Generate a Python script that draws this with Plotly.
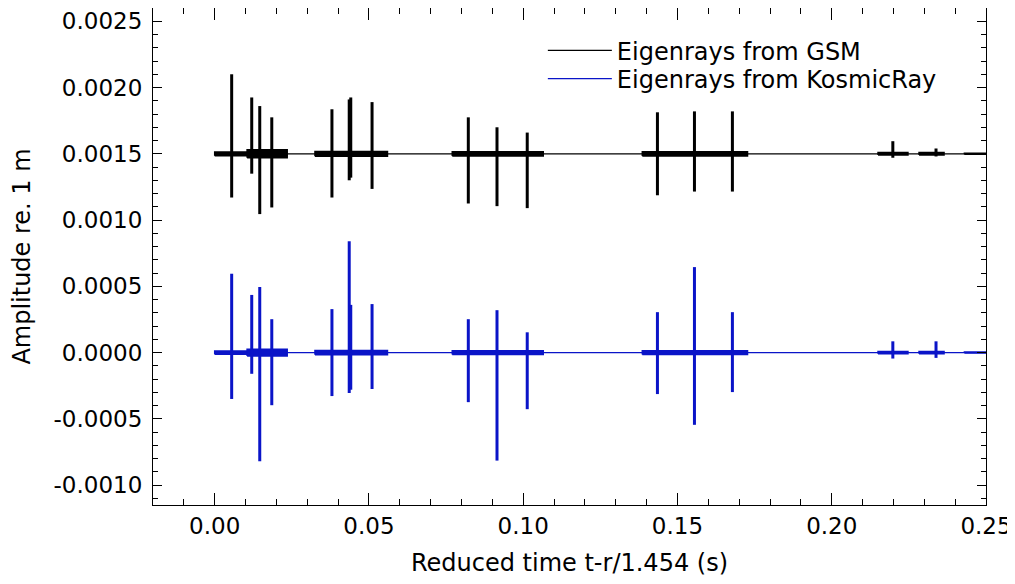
import plotly.graph_objects as go

# ---- data ----
spike_t = [0.0055, 0.0120, 0.0146, 0.0185, 0.0380, 0.0436, 0.0441, 0.0510,
           0.0822, 0.0915, 0.1013, 0.1435, 0.1555, 0.1678, 0.2198, 0.2338]
gsm_up = [0.000600, 0.000425, 0.000360, 0.000275, 0.000336, 0.000410, 0.000425, 0.000390,
          0.000275, 0.000200, 0.000160, 0.000313, 0.000320, 0.000320, 0.000095, 0.000040]
gsm_down = [-0.000330, -0.000150, -0.000455, -0.000405, -0.000330, -0.000200, -0.000180, -0.000265,
            -0.000375, -0.000395, -0.000410, -0.000313, -0.000285, -0.000285, -0.000030, -0.000020]
ks_up = [0.000595, 0.000435, 0.000495, 0.000252, 0.000328, 0.000840, 0.000360, 0.000366,
         0.000252, 0.000320, 0.000153, 0.000305, 0.000645, 0.000305, 0.000085, 0.000085]
ks_down = [-0.000350, -0.000160, -0.000820, -0.000397, -0.000328, -0.000305, -0.000280, -0.000275,
           -0.000374, -0.000815, -0.000427, -0.000313, -0.000545, -0.000298, -0.000045, -0.000040]

burst_start = [0.0000, 0.0105, 0.0325, 0.0770, 0.1386, 0.2150, 0.2283, 0.2430]
burst_end = [0.0105, 0.0235, 0.0560, 0.1065, 0.1727, 0.2247, 0.2364, 0.2500]
gsm_burst = [0.000014, 0.000030, 0.000018, 0.000016, 0.000016, 0.000010, 0.000010, 0.000004]
ks_burst = [0.000012, 0.000026, 0.000016, 0.000014, 0.000014, 0.000008, 0.000008, 0.000004]

gsm_offset = 0.0015
ks_offset = 0.0
t_range = [0.0, 0.25]

ytick_vals = [-0.0010, -0.0005, 0.0, 0.0005, 0.0010, 0.0015, 0.0020, 0.0025]
ytick_text = ["-0.0010", "-0.0005", "0.0000", "0.0005", "0.0010", "0.0015", "0.0020", "0.0025"]
xtick_vals = [0.0, 0.05, 0.10, 0.15, 0.20, 0.25]
xtick_text = ["0.00", "0.05", "0.10", "0.15", "0.20", "0.25"]

BLACK = "#000000"
BLUE = "#0a14c8"


def spikes(base, up, down):
    xs, ys = [], []
    for t, u, d in zip(spike_t, up, down):
        xs += [t, t, None]
        ys += [base + d, base + u, None]
    return xs, ys


def bursts(base, amp):
    xs, ys = [], []
    for s, e, a in zip(burst_start, burst_end, amp):
        xs += [s, e, e, s, s, None]
        ys += [base - a, base - a, base + a, base + a, base - a, None]
    return xs, ys


fig = go.Figure()
for name, base, up, down, amp, col, leg in [
    ("Eigenrays from GSM", gsm_offset, gsm_up, gsm_down, gsm_burst, BLACK, "legend"),
    ("Eigenrays from KosmicRay", ks_offset, ks_up, ks_down, ks_burst, BLUE, "legend2"),
]:
    fig.add_trace(go.Scatter(x=t_range, y=[base, base], mode="lines",
                             line=dict(color=col, width=1.2), name=name,
                             showlegend=True, legend=leg))
    bx, by = bursts(base, amp)
    fig.add_trace(go.Scatter(x=bx, y=by, mode="lines", fill="toself",
                             fillcolor=col, line=dict(color=col, width=1.5),
                             showlegend=False, hoverinfo="skip"))
    sx, sy = spikes(base, up, down)
    fig.add_trace(go.Scatter(x=sx, y=sy, mode="lines",
                             line=dict(color=col, width=3),
                             showlegend=False, hoverinfo="skip"))

FAM = "DejaVu Sans, sans-serif"
tick_font = dict(family=FAM, size=23, color="#000000")
title_font = dict(family=FAM, size=24, color="#000000")
legend_font = dict(family=FAM, size=24, color="#000000")

legend_common = dict(x=0.468, xanchor="left", yanchor="middle",
                     bgcolor="rgba(0,0,0,0)", font=legend_font,
                     itemwidth=64, borderwidth=0)

fig.update_layout(
    width=1007, height=576,
    margin=dict(l=145, r=29, t=0, b=79),
    paper_bgcolor="white", plot_bgcolor="white",
    font=title_font,
    showlegend=True,
    legend=dict(y=0.914, **legend_common),
    legend2=dict(y=0.857, **legend_common),
    xaxis=dict(range=[-0.02, 0.25], showgrid=False, zeroline=False,
               showline=True, linecolor="black", linewidth=1.2, mirror="ticks",
               ticks="inside", ticklen=12, tickwidth=1.2, tickcolor="black",
               tickvals=xtick_vals, ticktext=xtick_text, tickfont=tick_font,
               minor=dict(dtick=0.01, ticks="inside", ticklen=6, tickcolor="black", tickwidth=1.2),
               title=dict(text="Reduced time t-r/1.454 (s)", standoff=16, font=title_font)),
    yaxis=dict(range=[-0.00115, 0.0026], showgrid=False, zeroline=False,
               showline=True, linecolor="black", linewidth=1.2, mirror="ticks",
               ticks="inside", ticklen=9, tickwidth=1.2, tickcolor="black",
               tickvals=ytick_vals, ticktext=ytick_text, tickfont=tick_font,
               ticklabelstandoff=5,
               minor=dict(dtick=0.0001, tick0=0, ticks="inside", ticklen=5, tickcolor="black", tickwidth=1.2),
               title=dict(text="Amplitude re. 1 m", standoff=17, font=title_font)),
)

fig.write_html("out.html")
